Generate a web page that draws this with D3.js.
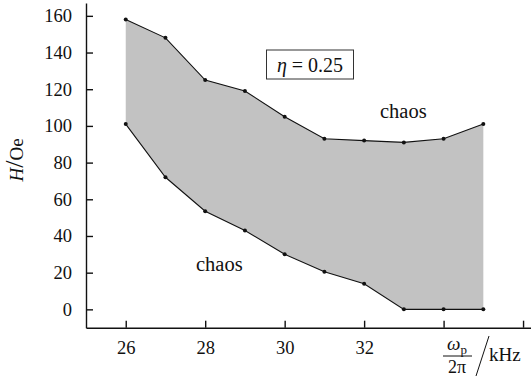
<!DOCTYPE html>
<meta charset="utf-8">
<style>
body { margin: 0; background: #fff; }
</style>
<script src="https://d3js.org/d3.v7.min.js"></script>
<body>
<svg id="chart" width="531" height="378"></svg>
<script>
// frequency, kHz
var freq = [26, 27, 28, 29, 30, 31, 32, 33, 34, 35];
// upper boundary of the grey region, Oe
var upper = [158, 148, 125, 119, 105, 93, 92, 91, 93, 101];
// lower boundary, Oe
var lower = [101, 72, 53.5, 43, 30, 20.5, 14, 0, 0, 0];
var xTicks = [26, 28, 30, 32, 34, 36];
var xTickLabels = ["26", "28", "30", "32", "", ""];
var yTicks = [0, 20, 40, 60, 80, 100, 120, 140, 160];

var serif = "'Liberation Serif', 'Times New Roman', 'DejaVu Serif', serif";
var svg = d3.select("#chart").attr("font-family", serif).style("font-family", serif);
var x = d3.scaleLinear().domain([25, 36.2]).range([86, 531]);
var y = d3.scaleLinear().domain([-10, 167]).range([327.7, 3]);

var pts = freq.map(function(f, i) { return {f: f, hi: upper[i], lo: lower[i]}; });

svg.append("path")
  .datum(pts)
  .attr("fill", "#c2c2c2")
  .attr("d", d3.area().x(d => x(d.f)).y0(d => y(d.lo)).y1(d => y(d.hi)));

["hi", "lo"].forEach(function(k) {
  svg.append("path")
    .datum(pts)
    .attr("fill", "none")
    .attr("stroke", "#111")
    .attr("stroke-width", 1.1)
    .attr("d", d3.line().x(d => x(d.f)).y(d => y(d[k])));
  svg.selectAll(".dot-" + k)
    .data(pts)
    .enter().append("circle")
    .attr("cx", d => x(d.f))
    .attr("cy", d => y(d[k]))
    .attr("r", 2)
    .attr("fill", "#111");
});

// axes
var xAxis = svg.append("g")
  .attr("transform", "translate(0," + y(-10) + ")")
  .call(d3.axisBottom(x).tickValues(xTicks)
    .tickFormat((d, i) => xTickLabels[i])
    .tickSizeInner(-7).tickSizeOuter(0).tickPadding(24));
var yAxis = svg.append("g")
  .attr("transform", "translate(" + x(25) + ",0)")
  .call(d3.axisLeft(y).tickValues(yTicks)
    .tickSizeInner(-7).tickSizeOuter(0).tickPadding(14));

[xAxis, yAxis].forEach(function(a) {
  a.attr("font-family", serif);
  a.selectAll("path, line").attr("stroke", "#111").attr("stroke-width", 1.4);
  a.selectAll("text").style("font-size", "18.5px").attr("fill", "#111");
});
xAxis.selectAll("text").attr("dy", "0.1em");

// y label
var yl = svg.append("text")
  .attr("transform", "translate(23,160) rotate(-90)")
  .attr("text-anchor", "middle")
  .style("font-size", "19px");
yl.append("tspan").style("font-style", "italic").text("H");
yl.append("tspan").attr("font-size", "26px").text("/");
yl.append("tspan").text("Oe");

// x label: fraction omega_p / 2pi, then / kHz
var xl = svg.append("g").style("font-size", "18px");
var om = xl.append("text").attr("x", 457).attr("y", 350).attr("text-anchor", "middle");
om.append("tspan").style("font-style", "italic").style("font-size", "19px").text("ω");
om.append("tspan").attr("dy", 4).style("font-size", "13px").text("p");
xl.append("line").attr("x1", 443).attr("x2", 472).attr("y1", 356).attr("y2", 356)
  .attr("stroke", "#111").attr("stroke-width", 1);
xl.append("text").attr("x", 457).attr("y", 373).attr("text-anchor", "middle").text("2π");
xl.append("line").attr("x1", 476).attr("x2", 489).attr("y1", 376).attr("y2", 336)
  .attr("stroke", "#111").attr("stroke-width", 1);
xl.append("text").attr("x", 489).attr("y", 361).style("font-size", "19px").text("kHz");

// annotations
svg.append("rect").attr("x", 266.5).attr("y", 50).attr("width", 87).attr("height", 29)
  .attr("fill", "#fff").attr("stroke", "#333").attr("stroke-width", 1);
var eta = svg.append("text").attr("x", 310).attr("y", 71.5).attr("text-anchor", "middle")
  .style("font-size", "20px");
eta.append("tspan").style("font-style", "italic").text("η");
eta.append("tspan").text(" = 0.25");

svg.append("text").attr("x", 380).attr("y", 118).style("font-size", "20.5px").text("chaos");
svg.append("text").attr("x", 196).attr("y", 271).style("font-size", "20.5px").text("chaos");

svg.selectAll("text").attr("fill", "#111");
</script>
</body>
